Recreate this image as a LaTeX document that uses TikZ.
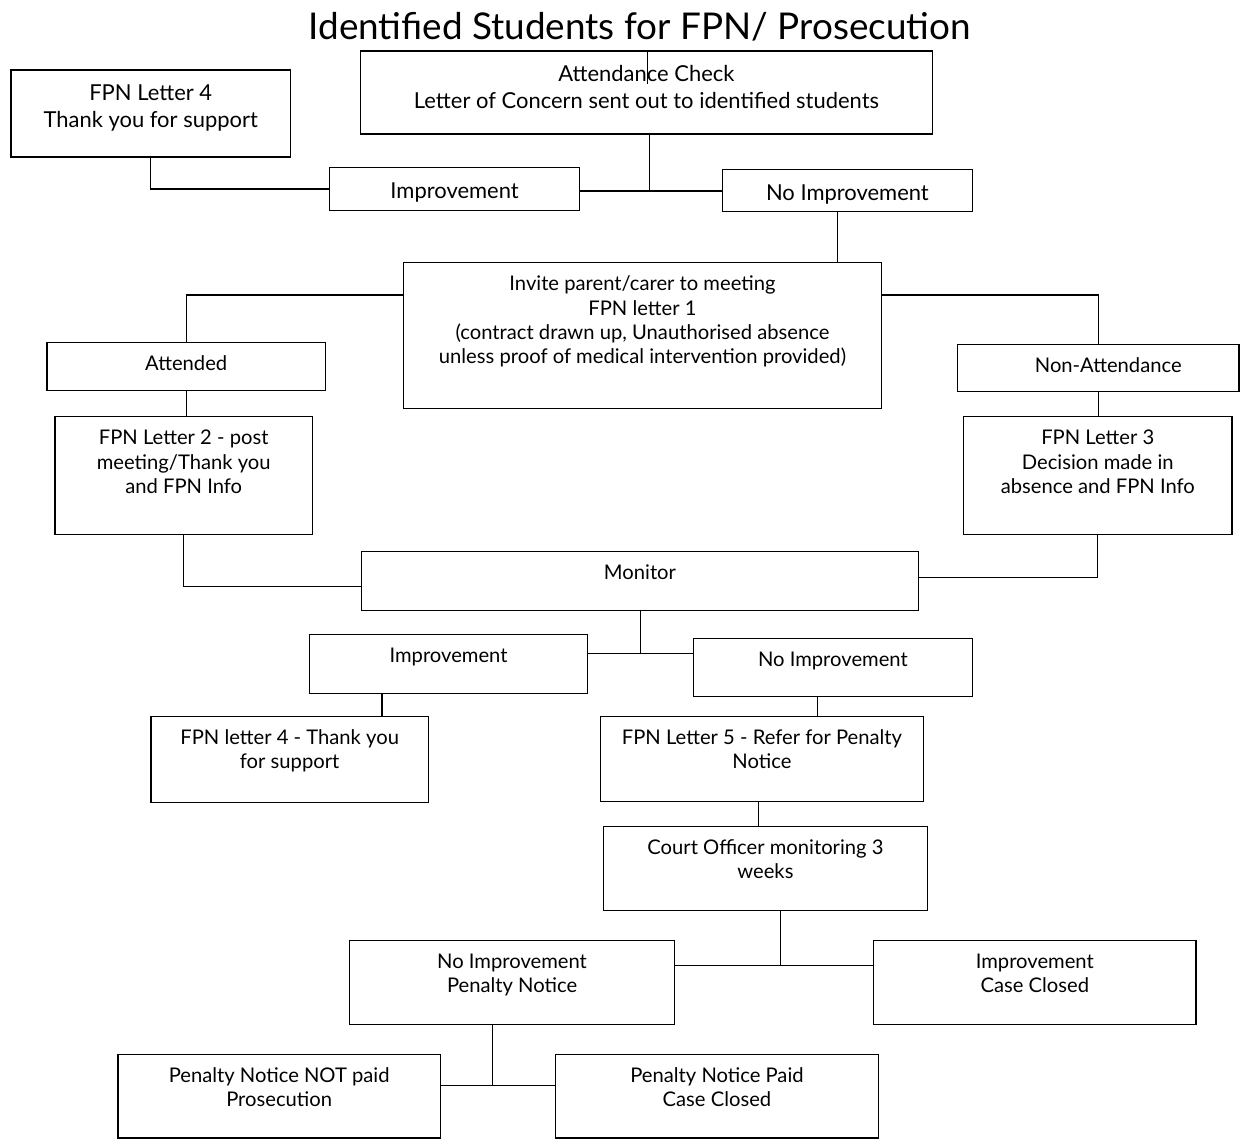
\documentclass[tikz,border=0pt]{standalone}
\usepackage{fontspec}
\setmainfont{Lato}
\newlength{\pxu}
\setlength{\pxu}{0.02cm}
\newcommand{\boxfont}{\fontsize{11.5}{13.9}\selectfont\rule{0pt}{16pt}}
\newcommand{\bigboxfont}{\fontsize{12.5}{15.3}\selectfont\rule{0pt}{17.5pt}}
\newcommand{\inbox}[4][\boxfont]{\parbox[c][#3\pxu][t]{#2\pxu}{\centering#1#4\par}}
\tikzset{
  stage/.style={draw, line width=0.9pt, inner sep=0pt, anchor=north west},
  link/.style={line width=0.8pt},
  heading/.style={font=\fontsize{21}{25}\selectfont}
}

\begin{document}
\begin{tikzpicture}[x=0.02cm, y=-0.02cm]
  \fill[white] (0,0) rectangle (1240,1148);
  \node[heading] (head) at (640,27) {Identified Students for FPN/ Prosecution};

  % first check
  \node[stage] (check) at (360,50) {\inbox[\bigboxfont]{572}{83}{Attendance Check\\Letter of Concern sent out to identified students}};
  \node[stage] (thanksA) at (10,69) {\inbox[\bigboxfont]{280}{87}{FPN Letter 4\\Thank you for support}};
  \node[stage] (impA) at (329,167) {\inbox[\bigboxfont]{250}{43}{Improvement}};
  \node[stage] (noimpA) at (722,169) {\inbox[\bigboxfont]{250}{42}{No Improvement}};

  % meeting
  \node[stage] (invite) at (403,262) {\inbox{478}{146}{Invite parent/carer to meeting\\FPN letter 1\\(contract drawn up, Unauthorised absence\\unless proof of medical intervention provided)}};
  \node[stage] (attended) at (46,342) {\inbox{279}{48}{Attended}};
  \node[stage] (absent) at (957,344) {\inbox{282}{47}{\hspace*{20\pxu}Non-Attendance}};
  \node[stage] (letterB) at (54,416) {\inbox{258}{118}{FPN Letter 2 - post\\meeting/Thank you\\and FPN Info}};
  \node[stage] (letterC) at (963,416) {\inbox{269}{118}{FPN Letter 3\\Decision made in\\absence and FPN Info}};

  % monitoring
  \node[stage] (monitor) at (361,551) {\inbox{557}{59}{Monitor}};
  \node[stage] (impB) at (309,634) {\inbox{278}{59}{Improvement}};
  \node[stage] (noimpB) at (693,638) {\inbox{279}{58}{No Improvement}};
  \node[stage] (thanksB) at (150,716) {\inbox{278}{86}{FPN letter 4 - Thank you\\for support}};
  \node[stage] (letterE) at (600,716) {\inbox{323}{85}{FPN Letter 5 - Refer for Penalty\\Notice}};
  \node[stage] (court) at (603,826) {\inbox{324}{84}{Court Officer monitoring 3\\weeks}};

  % outcome
  \node[stage] (penalty) at (349,940) {\inbox{325}{84}{No Improvement\\Penalty Notice}};
  \node[stage] (closed) at (873,940) {\inbox{323}{84}{Improvement\\Case Closed}};
  \node[stage] (unpaid) at (117,1054) {\inbox{323}{84}{Penalty Notice NOT paid\\Prosecution}};
  \node[stage] (paid) at (555,1054) {\inbox{323}{84}{Penalty Notice Paid\\Case Closed}};

  % connectors
  \coordinate (nick) at (648,84);
  \coordinate (splitA) at (650,191);
  \draw[link] (check.north -| nick) -- (nick);
  \draw[link] (check.south -| splitA) -- (splitA);
  \draw[link] (impA.east |- splitA) -- (noimpA.west |- splitA);
  \draw[link] (thanksA.south) |- (impA.west);

  \coordinate (dropA) at (838,0);
  \draw[link] (noimpA.south -| dropA) -- (invite.north -| dropA);
  \coordinate (arm) at (184,295);
  \draw[link] (invite.west |- arm) -| (attended.north);
  \draw[link] (invite.east |- arm) -| (absent.north);
  \draw[link] (attended.south) -- (attended.south |- letterB.north);
  \draw[link] (absent.south) -- (absent.south |- letterC.north);

  \coordinate (inL) at (0,587);
  \coordinate (inR) at (0,578);
  \draw[link] (letterB.south) |- (monitor.west |- inL);
  \draw[link] (letterC.south) |- (monitor.east |- inR);
  \coordinate (splitB) at (641,654);
  \draw[link] (monitor.south -| splitB) -- (splitB);
  \draw[link] (impB.east |- splitB) -- (noimpB.west |- splitB);
  \coordinate (dropB) at (382,0);
  \draw[link] (impB.south -| dropB) -- (thanksB.north -| dropB);
  \coordinate (dropC) at (818,0);
  \draw[link] (noimpB.south -| dropC) -- (letterE.north -| dropC);
  \coordinate (dropD) at (759,0);
  \draw[link] (letterE.south -| dropD) -- (court.north -| dropD);

  \coordinate (splitC) at (781,966);
  \draw[link] (court.south -| splitC) -- (splitC);
  \draw[link] (penalty.east |- splitC) -- (closed.west |- splitC);
  \coordinate (splitD) at (493,1086);
  \draw[link] (penalty.south -| splitD) -- (splitD);
  \draw[link] (unpaid.east |- splitD) -- (paid.west |- splitD);
\end{tikzpicture}
\end{document}
